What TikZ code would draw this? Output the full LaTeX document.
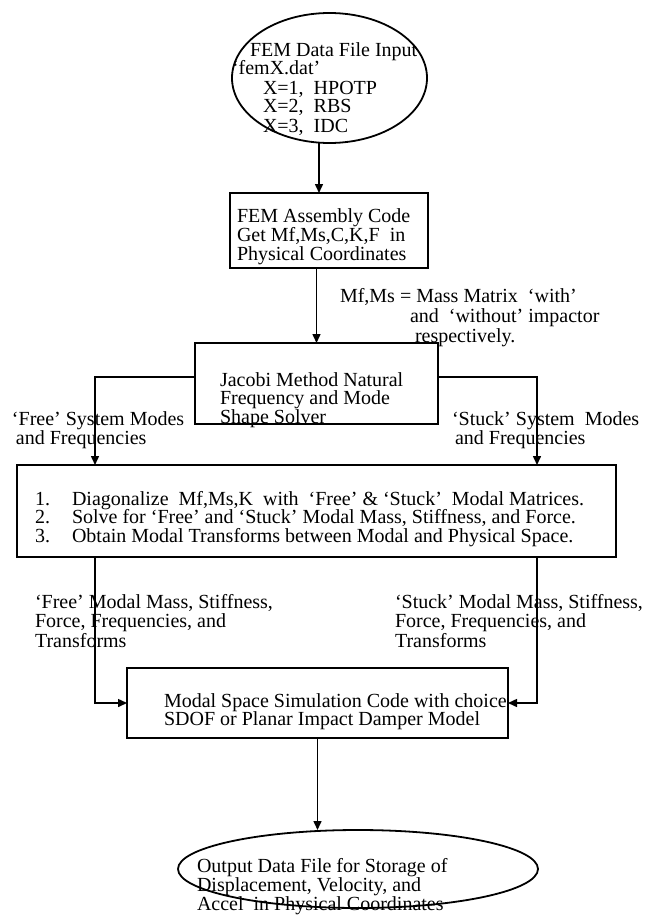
\documentclass[tikz,border=0pt]{standalone}
\usepackage{fontspec}
\setmainfont{Liberation Serif}
\usetikzlibrary{shapes.geometric,arrows.meta}
\begin{document}
\begin{tikzpicture}[x=1pt,y=-1pt,
  every node/.style={inner sep=0pt, outer sep=0pt},
  txt/.style={anchor=base west, font=\fontsize{20}{19}\selectfont},
  boxst/.style={draw, line width=1.8pt, rectangle},
  ellst/.style={draw, line width=1.8pt, ellipse},
  arr/.style={line width=1.5pt, -{Triangle[length=9pt,width=8pt]}}]
\useasboundingbox[fill=white] (0,0) rectangle (659,915);

% shapes
\node[ellst, minimum width=195, minimum height=130] (inp) at (329.5,78) {};
\node[boxst, minimum width=198, minimum height=75] (asm) at (329,230.5) {};
\node[boxst, minimum width=243, minimum height=81] (jac) at (316.5,383.5) {};
\node[boxst, minimum width=599, minimum height=92] (diag) at (316.5,511) {};
\node[boxst, minimum width=381, minimum height=70] (sim) at (317.5,703) {};
\node[ellst, minimum width=360, minimum height=78] (out) at (358,869) {};

% texts: input ellipse
\node[txt] (i1) at (250,57) {FEM Data File Input};
\node[txt] (i2) at (232,75) {‘femX.dat’};
\node[txt] (i3) at (263,95) {X=1,~ HPOTP};
\node[txt] (i4) at (263,113) {X=2,~ RBS};
\node[txt] (i5) at (263,132) {X=3,~ IDC};

% assembly box
\node[txt] (a1) at (237,222) {FEM Assembly Code};
\node[txt] (a2) at (237,241) {Get Mf,Ms,C,K,F~ in};
\node[txt] (a3) at (237,260) {Physical Coordinates};

% mass matrix note
\node[txt] (m1) at (340,302) {Mf,Ms = Mass Matrix~ ‘with’};
\node[txt] (m2) at (410,322) {and~ ‘without’ impactor};
\node[txt] (m3) at (415,342) {respectively.};

% Jacobi box
\node[txt] (j1) at (220,386) {Jacobi Method Natural};
\node[txt] (j2) at (220,404) {Frequency and Mode};
\node[txt] (j3) at (220,423.5) {Shape Solver};

% mode labels
\node[txt] (f1) at (12,425) {‘Free’ System Modes};
\node[txt] (f2) at (16,444) {and Frequencies};
\node[txt] (s1) at (452,425) {‘Stuck’ System~ Modes};
\node[txt] (s2) at (455,444) {and Frequencies};

% diagonalize box
\node[txt] (d1n) at (35,505) {1.};
\node[txt] (d1) at (72,505) {Diagonalize~ Mf,Ms,K~ with~ ‘Free’ \& ‘Stuck’~ Modal Matrices.};
\node[txt] (d2n) at (35,523) {2.};
\node[txt] (d2) at (72,523) {Solve for ‘Free’ and ‘Stuck’ Modal Mass, Stiffness, and Force.};
\node[txt] (d3n) at (35,542) {3.};
\node[txt] (d3) at (72,542) {Obtain Modal Transforms between Modal and Physical Space.};

% modal labels
\node[txt] (fm1) at (35,608) {‘Free’ Modal Mass, Stiffness,};
\node[txt] (fm2) at (35,627) {Force, Frequencies, and};
\node[txt] (fm3) at (35,647) {Transforms};
\node[txt] (sm1) at (395,608) {‘Stuck’ Modal Mass, Stiffness,};
\node[txt] (sm2) at (395,627) {Force, Frequencies, and};
\node[txt] (sm3) at (395,647) {Transforms};

% simulation box
\node[txt] (q1) at (164,707) {Modal Space Simulation Code with choice};
\node[txt] (q2) at (164,725) {SDOF or Planar Impact Damper Model};

% output ellipse
\node[txt] (o1) at (197,872) {Output Data File for Storage of};
\node[txt] (o2) at (197,891) {Displacement, Velocity, and};
\node[txt] (o3) at (197,910) {Accel~ in Physical Coordinates};

% connectors
\coordinate (xl) at (95,0);
\coordinate (xr) at (537,0);
\coordinate (ys) at (0,377);
\coordinate (xa) at (319,0);
\draw[arr] (xa |- inp.south) -- (xa |- asm.north);
\draw[arr] (jac.north |- asm.south) -- (jac.north);
\draw[arr] (jac.west |- ys) -| (xl |- diag.north);
\draw[arr] (jac.east |- ys) -| (xr |- diag.north);
\draw[arr] (xl |- diag.south) |- (sim.west);
\draw[arr] (xr |- diag.south) |- (sim.east);
\draw[arr] (sim.south) -- (sim.south |- out.north);
\end{tikzpicture}
\end{document}
